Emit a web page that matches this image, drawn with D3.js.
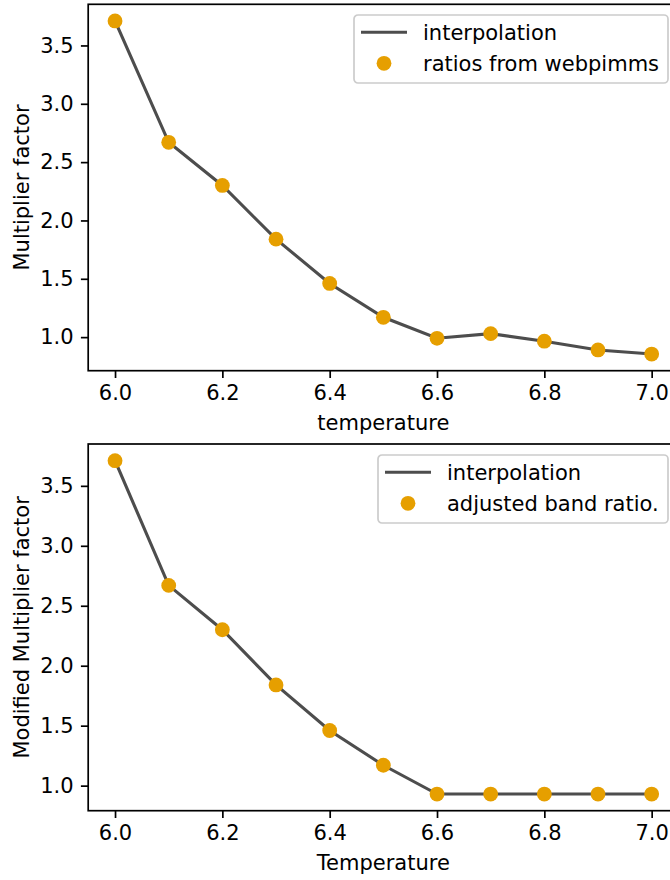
<!DOCTYPE html>
<html>
<head>
<meta charset="utf-8">
<script src="https://cdn.jsdelivr.net/npm/d3@7"></script>
<style>
  body { margin: 0; background: #fff; }
  svg { display: block; font-family: "DejaVu Sans", sans-serif; }
</style>
</head>
<body>
<div id="chart"></div>
<script>
// data
var temperature = [6.0, 6.1, 6.2, 6.3, 6.4, 6.5, 6.6, 6.7, 6.8, 6.9, 7.0];
var ratios = [3.71, 2.67, 2.30, 1.84, 1.46, 1.17, 0.99, 1.03, 0.965, 0.89, 0.855];
var adjusted = [3.71, 2.67, 2.30, 1.84, 1.46, 1.17, 0.93, 0.93, 0.93, 0.93, 0.93];
var xTicks = [6.0, 6.2, 6.4, 6.6, 6.8, 7.0];
var yTicks = [1.0, 1.5, 2.0, 2.5, 3.0, 3.5];

var W = 670, H = 880;
var lineColor = "#4d4d4d", dotColor = "#e69f00";
var fs = 21, tickLen = 7.3, pad = 7.3;

var svg = d3.select("#chart").append("svg")
  .attr("width", W)
  .attr("height", H);

// matplotlib-like 5% margins
var padded = function (vals) {
  var ext = d3.extent(vals), m = (ext[1] - ext[0]) * 0.05;
  return [ext[0] - m, ext[1] + m];
};

var panels = [
  { values: ratios, top: 4.3, bottom: 370.7, ylabel: "Multiplier factor", xlabel: "temperature",
    legend: { x: 354, y: 15, w: 314, h: 68, labels: ["interpolation", "ratios from webpimms"] } },
  { values: adjusted, top: 444, bottom: 810.7, ylabel: "Modified Multiplier factor", xlabel: "Temperature",
    legend: { x: 378, y: 455, w: 290, h: 68, labels: ["interpolation", "adjusted band ratio."] } }
];

var left = 88.2, right = 678.5;

panels.forEach(function (p) {
  var x = d3.scaleLinear().domain(padded(temperature)).range([left, right]);
  var y = d3.scaleLinear().domain(padded(p.values)).range([p.bottom, p.top]);
  var g = svg.append("g");
  var pts = temperature.map(function (t, i) { return [t, p.values[i]]; });

  // line
  g.append("path")
    .attr("d", d3.line().x(function (d) { return x(d[0]); }).y(function (d) { return y(d[1]); })(pts))
    .attr("fill", "none")
    .attr("stroke", lineColor)
    .attr("stroke-width", 3.1);

  // points
  g.selectAll("circle.pt")
    .data(pts)
    .enter()
    .append("circle")
    .attr("class", "pt")
    .attr("cx", function (d) { return x(d[0]); })
    .attr("cy", function (d) { return y(d[1]); })
    .attr("r", 7.4)
    .attr("fill", dotColor);

  // frame
  g.append("rect")
    .attr("x", left)
    .attr("y", p.top)
    .attr("width", right - left)
    .attr("height", p.bottom - p.top)
    .attr("fill", "none")
    .attr("stroke", "#000")
    .attr("stroke-width", 1.7);

  // x axis
  var xa = g.append("g")
    .attr("transform", "translate(0," + p.bottom + ")")
    .call(d3.axisBottom(x).tickValues(xTicks).tickFormat(d3.format(".1f")).tickSize(tickLen).tickPadding(pad));
  xa.select(".domain").remove();
  xa.selectAll("line").attr("stroke", "#000").attr("stroke-width", 1.7);
  xa.selectAll("text").attr("font-size", fs).attr("fill", "#000").attr("font-family", "DejaVu Sans");

  // y axis
  var ya = g.append("g")
    .attr("transform", "translate(" + left + ",0)")
    .call(d3.axisLeft(y).tickValues(yTicks).tickFormat(d3.format(".1f")).tickSize(tickLen).tickPadding(pad));
  ya.select(".domain").remove();
  ya.selectAll("line").attr("stroke", "#000").attr("stroke-width", 1.7);
  ya.selectAll("text").attr("font-size", fs).attr("fill", "#000").attr("font-family", "DejaVu Sans");

  // labels
  g.append("text")
    .attr("x", (left + right) / 2)
    .attr("y", p.bottom + 59.5)
    .attr("text-anchor", "middle")
    .attr("font-size", fs)
    .text(p.xlabel);
  g.append("text")
    .attr("transform", "translate(29," + (p.top + p.bottom) / 2 + ") rotate(-90)")
    .attr("text-anchor", "middle")
    .attr("font-size", fs)
    .text(p.ylabel);

  // legend
  var L = p.legend;
  var lg = g.append("g").attr("transform", "translate(" + L.x + "," + L.y + ")");
  lg.append("rect")
    .attr("width", L.w)
    .attr("height", L.h)
    .attr("rx", 4)
    .attr("fill", "#fff")
    .attr("fill-opacity", 0.8)
    .attr("stroke", "#cccccc")
    .attr("stroke-width", 1.7);
  lg.append("line")
    .attr("x1", 7).attr("x2", 53)
    .attr("y1", 17.3).attr("y2", 17.3)
    .attr("stroke", lineColor)
    .attr("stroke-width", 3.1);
  lg.append("circle")
    .attr("cx", 30).attr("cy", 48.3)
    .attr("r", 7.4)
    .attr("fill", dotColor);
  lg.selectAll("text.lab")
    .data(L.labels)
    .enter()
    .append("text")
    .attr("class", "lab")
    .attr("x", 69)
    .attr("y", function (d, i) { return 17.3 + i * 31 + 7.5; })
    .attr("font-size", fs)
    .text(function (d) { return d; });
});
</script>
</body>
</html>
